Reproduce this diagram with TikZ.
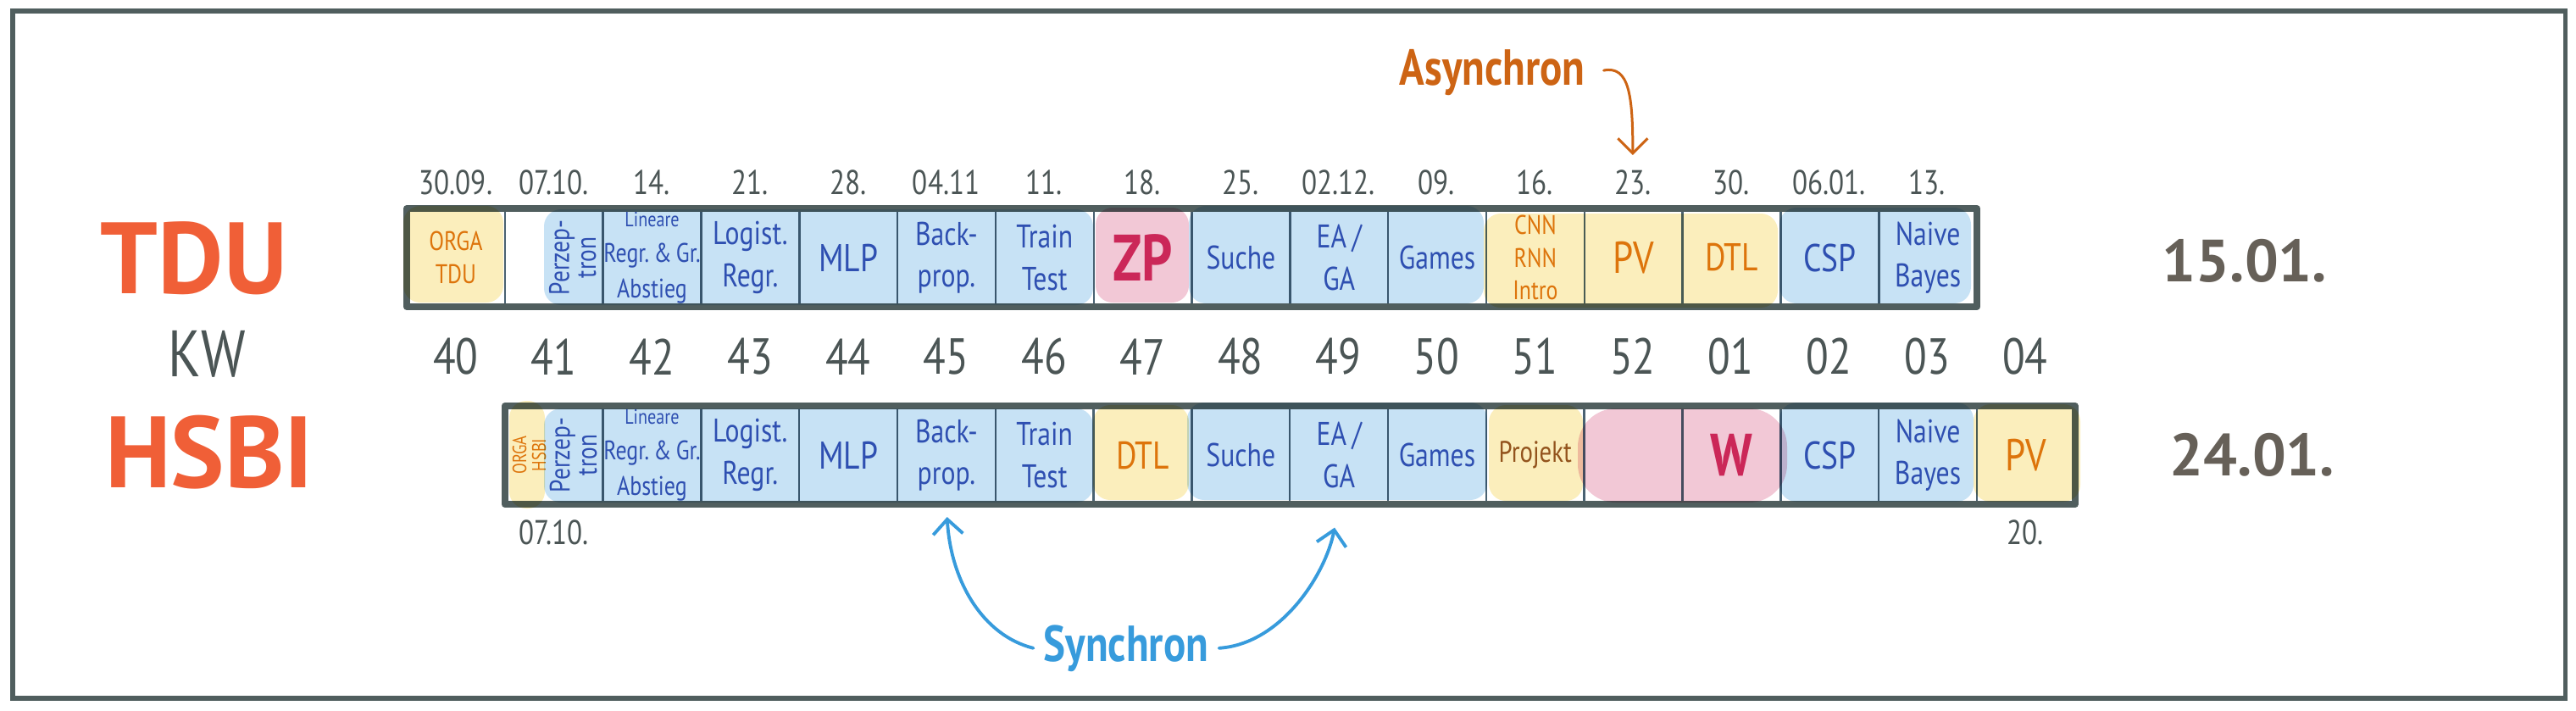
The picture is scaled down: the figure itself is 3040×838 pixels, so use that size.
\documentclass[tikz,border=0pt]{standalone}
\usepackage{fontspec}
\setmainfont{PT Sans}[FakeStretch=0.82]
\newfontfamily\plainsans{PT Sans}
\usepackage{xcolor}
\usetikzlibrary{positioning,arrows.meta}
\definecolor{framegray}{RGB}{80,94,94}
\definecolor{divgray}{RGB}{74,98,114}
\definecolor{hlyellow}{RGB}{251,238,188}
\definecolor{hlblue}{RGB}{199,226,245}
\definecolor{hlpink}{RGB}{242,200,214}
\definecolor{penblue}{RGB}{60,90,185}
\definecolor{penorange}{RGB}{225,125,15}
\definecolor{penmagenta}{RGB}{214,50,105}
\definecolor{pengray}{RGB}{75,85,85}
\definecolor{penred}{RGB}{240,95,55}
\definecolor{penasync}{RGB}{205,100,20}
\definecolor{pensync}{RGB}{55,155,220}
\definecolor{penend}{RGB}{102,96,88}
\definecolor{penbrown}{RGB}{150,90,40}

\begin{document}
\begin{tikzpicture}[x=0.01cm, y=-0.01cm,
    cell/.style={draw=divgray, line width=0.7pt, text width=1.1575cm, minimum height=1.16cm,
      inner sep=0pt, outer sep=0pt, align=center, text=penblue, font=\fontsize{11}{14}\selectfont},
    bar/.style={draw=framegray, line width=2.3pt, line join=round},
    hl/.style={rounded corners=0.2cm},
    date/.style={text=pengray, font=\fontsize{11.5}{13}\selectfont},
    week/.style={text=pengray, font=\fontsize{17}{20}\selectfont},
    uni/.style={text=penred, font=\plainsans\bfseries\fontsize{34}{40}\selectfont},
    enddate/.style={text=penend, font=\plainsans\bfseries\fontsize{20}{24}\selectfont},
    hand/.style={font=\bfseries\fontsize{17}{20}\selectfont, anchor=base},
    pen/.style={line width=1.1pt, line cap=round, -{Straight Barb[length=5pt,width=10pt]}}]
  \useasboundingbox (0,0) rectangle (3040,838);
  \draw[framegray, line width=1.45pt] (15,13) rectangle (3027,824);

  \node[uni] (tdu) at (229,305) {TDU};
  \node[text=pengray, font=\fontsize{22}{24}\selectfont] (kw) at (244,418) {KW};
  \node[uni] (hsbi) at (247,534) {HSBI};

  % TDU
  \node[cell, text=penorange, font=\fontsize{9}{11}\selectfont] (t1) at (537.9,304) {ORGA\\TDU};
  \node[cell, right=0pt of t1] (t2) {};
  \node[cell, font=\fontsize{9}{12}\selectfont, right=0pt of t2] (t3) {{\fontsize{7}{9}\selectfont Lineare}\\Regr.\,\&\,Gr.\\Abstieg};
  \node[cell, right=0pt of t3] (t4) {Logist.\\Regr.};
  \node[cell, font=\fontsize{13}{15}\selectfont, right=0pt of t4] (t5) {MLP};
  \node[cell, right=0pt of t5] (t6) {Back-\\prop.};
  \node[cell, right=0pt of t6] (t7) {Train\\Test};
  \node[cell, text=penmagenta, font=\bfseries\fontsize{22}{24}\selectfont, right=0pt of t7] (t8) {ZP};
  \node[cell, right=0pt of t8] (t9) {Suche};
  \node[cell, right=0pt of t9] (t10) {EA\,/\\GA};
  \node[cell, right=0pt of t10] (t11) {Games};
  \node[cell, text=penorange, font=\fontsize{9}{11}\selectfont, right=0pt of t11] (t12) {CNN\\RNN\\Intro};
  \node[cell, text=penorange, font=\fontsize{15}{17}\selectfont, right=0pt of t12] (t13) {PV};
  \node[cell, text=penorange, font=\fontsize{13}{15}\selectfont, right=0pt of t13] (t14) {DTL};
  \node[cell, font=\fontsize{13}{15}\selectfont, right=0pt of t14] (t15) {CSP};
  \node[cell, right=0pt of t15] (t16) {Naive\\Bayes};
  \node[rotate=90, align=center, inner sep=0pt, text=penblue, font=\fontsize{9.5}{9}\selectfont] (tperz) at ([xshift=0.22cm]t2.center) {Perzep-\\tron};

  % HSBI
  \node[cell] (b2) at (653.6,537) {};
  \node[cell, font=\fontsize{9}{12}\selectfont, right=0pt of b2] (b3) {{\fontsize{7}{9}\selectfont Lineare}\\Regr.\,\&\,Gr.\\Abstieg};
  \node[cell, right=0pt of b3] (b4) {Logist.\\Regr.};
  \node[cell, font=\fontsize{13}{15}\selectfont, right=0pt of b4] (b5) {MLP};
  \node[cell, right=0pt of b5] (b6) {Back-\\prop.};
  \node[cell, right=0pt of b6] (b7) {Train\\Test};
  \node[cell, text=penorange, font=\fontsize{13}{15}\selectfont, right=0pt of b7] (b8) {DTL};
  \node[cell, right=0pt of b8] (b9) {Suche};
  \node[cell, right=0pt of b9] (b10) {EA\,/\\GA};
  \node[cell, right=0pt of b10] (b11) {Games};
  \node[cell, text=penbrown, font=\fontsize{10}{12}\selectfont, right=0pt of b11] (b12) {Projekt};
  \node[cell, right=0pt of b12] (b13) {};
  \node[cell, text=penmagenta, font=\bfseries\fontsize{20}{22}\selectfont, right=0pt of b13] (b14) {W};
  \node[cell, font=\fontsize{13}{15}\selectfont, right=0pt of b14] (b15) {CSP};
  \node[cell, right=0pt of b15] (b16) {Naive\\Bayes};
  \node[cell, text=penorange, font=\fontsize{15}{17}\selectfont, right=0pt of b16] (b17) {PV};
  \node[rotate=90, align=center, inner sep=0pt, text=penorange, font=\fontsize{6.5}{6.5}\selectfont] (borga) at ([xshift=-0.29cm]b2.center) {ORGA\\HSBI};
  \node[rotate=90, align=center, inner sep=0pt, text=penblue, font=\fontsize{9.5}{9}\selectfont] (bperz) at ([xshift=0.23cm]b2.center) {Perzep-\\tron};

  \draw[bar] (t1.north west) rectangle (t16.south east);
  \draw[bar] (b2.north west) rectangle (b17.south east);

  \begin{scope}[blend mode=multiply]
    \fill[hlyellow, hl] (476,243) rectangle (594,357);
    \fill[hlblue, hl] (642,247) rectangle (1290,360);
    \fill[hlpink, hl] (1293,245) rectangle (1403,357);
    \fill[hlblue, hl] (1403,243) rectangle (1751,358);
    \fill[hlyellow, hl] (1751,252) rectangle (2098,363);
    \fill[hlblue, hl] (2100,245) rectangle (2326,358);
    \fill[hlyellow, hl] (601,473) rectangle (643,600);
    \fill[hlblue, hl] (642,482) rectangle (1290,593);
    \fill[hlyellow, hl] (1290,478) rectangle (1403,590);
    \fill[hlblue, hl] (1401,475) rectangle (1755,590);
    \fill[hlyellow, hl] (1757,478) rectangle (1868,591);
    \fill[hlpink, rounded corners=0.45cm] (1862,482) rectangle (2109,593);
    \fill[hlblue, hl] (2100,475) rectangle (2329,592);
    \fill[hlyellow, hl] (2329,477) rectangle (2455,592);
  \end{scope}

  \foreach \d [count=\i] in {30.09.,07.10.,14.,21.,28.,04.11,11.,18.,25.,02.12.,09.,16.,23.,30.,06.01.,13.}
    \node[date] (d\i) at ({480+(\i-0.5)*115.75},215) {\d};
  \foreach \w [count=\i] in {40,41,42,43,44,45,46,47,48,49,50,51,52,01,02,03,04}
    \node[week] (w\w) at ({480+(\i-0.5)*115.75},421) {\w};
  \node[date] (hstart) at (653.6,628) {07.10.};
  \node[date] (hend) at (2390,628) {20.};

  \node[enddate] (endtdu) at (2649,308) {15.01.};
  \node[enddate] (endhsbi) at (2658,537) {24.01.};

  \node[hand, text=penasync] (async) at (1761,100) {Asynchron};
  \draw[pen, penasync, line width=0.85pt, shorten <=0.1cm, shorten >=0.05cm]
    (async.east) .. controls +(40,-8) and +(0,-75) .. (d13.north);
  \node[hand, text=pensync] (sync) at (1329,780) {Synchron};
  \draw[pen, pensync, shorten >=0.15cm] (sync.west) .. controls +(-60,-15) and +(5,90) .. (b6.south);
  \draw[pen, pensync, shorten >=0.28cm] (sync.east) .. controls +(75,-5) and +(-15,80) .. (b10.south);
\end{tikzpicture}
\end{document}
